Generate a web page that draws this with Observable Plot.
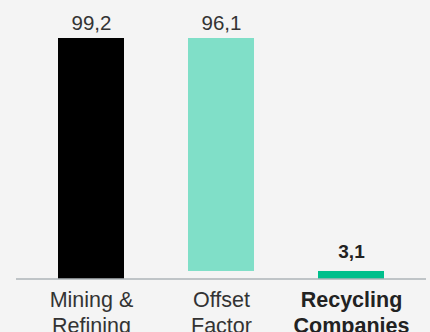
<!DOCTYPE html>
<html>
<head>
<meta charset="utf-8">
<script src="https://cdn.jsdelivr.net/npm/d3@7"></script>
<script src="https://cdn.jsdelivr.net/npm/@observablehq/plot@0.6"></script>
<style>
  html, body { margin: 0; padding: 0; background: #f4f4f4; }
  #chart svg { display: block; }
</style>
</head>
<body>
<div id="chart"></div>
<script>
const categories = ["Mining & Refining", "Offset Factor", "Recycling Companies"];
const tickLabels = ["Mining &\nRefining", "Offset\nFactor", "Recycling\nCompanies"];
const barStart = [0, 3.1, 0];
const barEnd = [99.2, 99.2, 3.1];
const values = [99.2, 96.1, 3.1];
const colors = ["#000000", "#80dfc8", "#00bf8c"];

const fmt = v => v.toFixed(1).replace(".", ",");
const rows = categories.map((c, i) => ({
  cat: c, tick: tickLabels[i], y1: barStart[i], y2: barEnd[i], value: values[i], color: colors[i], bold: i === 2
}));
const normal = rows.filter(d => !d.bold);
const bold = rows.filter(d => d.bold);

const font = "'Liberation Sans', Arial, sans-serif";
const fs = 21.5;
const lh = 1.21;
const chart = Plot.plot({
  width: 430,
  height: 332,
  marginTop: 38,
  marginBottom: 53.5,
  marginLeft: 16,
  marginRight: 4,
  style: { background: "#f4f4f4", fontFamily: font },
  x: { domain: categories, paddingInner: 0.4923, paddingOuter: 0.323, axis: null },
  y: { domain: [0, 99.2], axis: null },
  marks: [
    Plot.barY(rows, { x: "cat", y1: "y1", y2: "y2", fill: "color" }),
    Plot.ruleY([0], { stroke: "#8a949a", strokeWidth: 1.2 }),
    Plot.text(normal, { x: "cat", y: "y2", text: d => fmt(d.value), lineAnchor: "bottom", dy: -9, fontSize: 20.5, fill: "#333333" }),
    Plot.text(bold, { x: "cat", y: "y2", text: d => fmt(d.value), lineAnchor: "bottom", dy: -13, fontSize: 19, fontWeight: "bold", fill: "#222222" }),
    Plot.text(normal, { x: "cat", y: 0, text: "tick", lineAnchor: "top", dy: 9.7, lineHeight: lh, fontSize: fs, fill: "#333333" }),
    Plot.text(bold, { x: "cat", y: 0, text: "tick", lineAnchor: "top", dy: 9.7, lineHeight: lh, fontSize: fs, fontWeight: "bold", fill: "#222222" })
  ]
});
document.getElementById("chart").appendChild(chart);
</script>
</body>
</html>
